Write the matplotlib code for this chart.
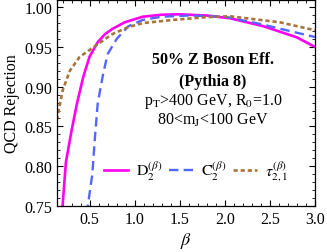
import numpy as np
import matplotlib
matplotlib.use('Agg')
import matplotlib.pyplot as plt
from matplotlib.ticker import MultipleLocator, FormatStrFormatter

plt.rcParams['font.family'] = ['Liberation Serif', 'DejaVu Serif']
plt.rcParams['mathtext.fontset'] = 'stix'

# values
d2_beta = [0.19, 0.20, 0.237, 0.30, 0.36, 0.43, 0.50, 0.59, 0.67, 0.75, 0.89, 1.09, 1.3, 1.5, 1.8, 2.06, 2.43, 2.8, 3.0]
d2_rej = [0.745, 0.75, 0.805, 0.845, 0.879, 0.9125, 0.938, 0.956, 0.966, 0.9725, 0.981, 0.988, 0.9905, 0.991, 0.9895, 0.986, 0.976, 0.962, 0.95]

c2_beta = [0.47, 0.48, 0.53, 0.56, 0.59, 0.65, 0.70, 0.80, 0.93, 1.09, 1.3, 1.6, 2.0, 2.39, 2.72, 3.0]
c2_rej = [0.74, 0.75, 0.79, 0.8375, 0.879, 0.916, 0.941, 0.96, 0.976, 0.984, 0.988, 0.9895, 0.988, 0.979, 0.970, 0.9625]

tau_beta = [0.137, 0.15, 0.20, 0.28, 0.39, 0.56, 0.75, 0.93, 1.09, 1.43, 1.8, 2.06, 2.61, 3.0]
tau_rej = [0.858, 0.866, 0.895, 0.92, 0.9375, 0.951, 0.966, 0.975, 0.98, 0.984, 0.9875, 0.9885, 0.981, 0.971]

labels = [r'$\mathrm{D}_2^{(\beta)}$', r'$\mathrm{C}_2^{(\beta)}$', r'$\tau_{2,1}^{(\beta)}$']

fig = plt.figure(figsize=(3.27, 2.53), dpi=100)
ax = fig.add_axes([0.174, 0.182, 0.789, 0.814])

ax.plot(d2_beta, d2_rej, color='#ff00f0', lw=1.9, label=labels[0])
ax.plot(c2_beta, c2_rej, color='#5566ff', lw=1.7, dashes=(4, 2.2), label=labels[1])
ax.plot(tau_beta, tau_rej, color='#a8743c', lw=1.9, dashes=(1.6, 1.1), label=labels[2])

ax.set_xlim(0.137, 3.0)
ax.set_ylim(0.75, 1.009)
ax.xaxis.set_major_locator(MultipleLocator(0.5))
ax.xaxis.set_minor_locator(MultipleLocator(0.1))
ax.yaxis.set_major_locator(MultipleLocator(0.05))
ax.yaxis.set_minor_locator(MultipleLocator(0.01))
ax.xaxis.set_major_formatter(FormatStrFormatter('%.1f'))
ax.yaxis.set_major_formatter(FormatStrFormatter('%.2f'))
ax.tick_params(which='both', direction='in', top=True, right=True, labelsize=11.5)
ax.tick_params(which='major', length=4, width=0.8)
ax.tick_params(which='minor', length=2, width=0.6)
for s in ax.spines.values():
    s.set_linewidth(0.9)

ax.set_xlabel(r'$\beta$', fontsize=13, labelpad=2)
ax.set_ylabel('QCD Rejection', fontsize=11.5, labelpad=3)

tx = 0.605
ax.text(tx, 0.714, '50% Z Boson Eff.', transform=ax.transAxes, ha='center', va='center',
        fontsize=11.5, fontweight='bold')
ax.text(tx, 0.607, '(Pythia 8)', transform=ax.transAxes, ha='center', va='center',
        fontsize=11.5, fontweight='bold')
ax.text(tx, 0.51, r'p$_\mathrm{T}$>400 GeV, R$_0$=1.0', transform=ax.transAxes,
        ha='center', va='center', fontsize=11.5)
ax.text(tx, 0.422, r'80<m$_\mathrm{J}$<100 GeV', transform=ax.transAxes,
        ha='center', va='center', fontsize=11.5)

ax.legend(loc='center', bbox_to_anchor=(0.54, 0.17), ncol=3, frameon=False,
          fontsize=11.5, handlelength=1.5, handletextpad=0.5, columnspacing=0.4,
          borderpad=0.1)

fig.savefig('out.png', dpi=100)
